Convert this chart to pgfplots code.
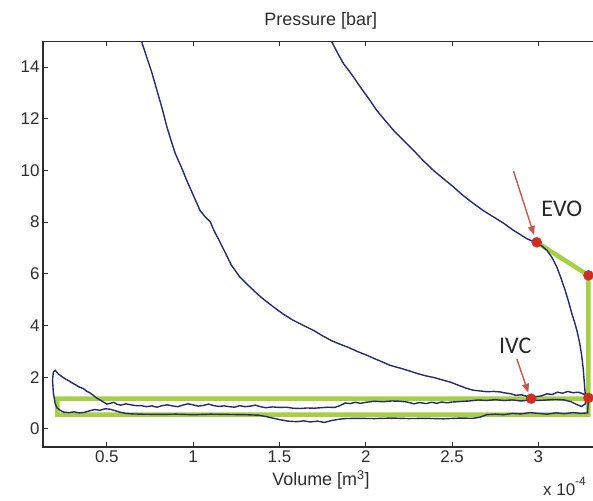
\documentclass[border=0pt]{standalone}
\usepackage{fontspec}
\setmainfont{Liberation Sans}
\newfontfamily\calib{Carlito}
\usepackage{pgfplots}
\pgfplotsset{compat=1.18}
\usetikzlibrary{arrows.meta}
\definecolor{navy}{RGB}{38,42,110}
\definecolor{lime}{RGB}{165,208,65}
\definecolor{dotred}{RGB}{205,45,35}
\definecolor{arrred}{RGB}{195,90,80}
\definecolor{axgray}{RGB}{45,45,45}
\begin{document}
\begin{tikzpicture}
\begin{axis}[
  scale only axis, width=555.8bp, height=405.8bp,
  xmin=0.13, xmax=3.35, ymin=-0.7, ymax=15,
  xtick={0.5,1,1.5,2,2.5,3}, xticklabels={0.5,1,1.5,2,2.5,3},
  ytick={0,2,4,6,8,10,12,14},
  scaled x ticks=false,
  /pgf/number format/assume math mode=true,
  ticklabel style={font=\fontsize{17}{17}\selectfont, text=axgray},
  axis line style={axgray, line width=1.1pt},
  major tick length=5bp,
  tick style={axgray, line width=1pt},
  tick align=inside,
]
% green annotation lines
\addplot[lime, line width=4.5bp, line join=miter] coordinates {
 (2.99,7.22) (3.29,5.94) (3.29,0.55) (0.214,0.55) (0.214,1.17) (3.29,1.17)};
% compression curve
\addplot[navy, line width=1.4bp] coordinates {
 (3.285,1.20) (3.27,1.32) (3.25,1.38) (3.23,1.42) (3.20,1.40) (3.17,1.45) (3.14,1.38)
 (3.11,1.42) (3.08,1.33) (3.05,1.36) (3.02,1.28) (2.99,1.25) (2.958,1.20) (2.93,1.27)
 (2.90,1.32) (2.87,1.30) (2.84,1.36) (2.80,1.40) (2.78,1.43) (2.74,1.45) (2.70,1.44)
 (2.66,1.47) (2.62,1.50) (2.58,1.58) (2.54,1.68) (2.49,1.81) (2.44,1.90) (2.40,1.98)
 (2.35,2.05) (2.30,2.14) (2.25,2.25) (2.20,2.35) (2.14,2.46) (2.10,2.58) (2.05,2.72)
 (2.006,2.85) (1.95,3.00) (1.90,3.15) (1.85,3.28) (1.80,3.42) (1.75,3.60) (1.70,3.80)
 (1.64,4.00) (1.58,4.20) (1.52,4.45) (1.465,4.72) (1.42,4.95) (1.37,5.23) (1.32,5.55)
 (1.27,5.88) (1.22,6.35) (1.18,6.90) (1.15,7.30) (1.12,7.68) (1.10,8.00) (1.07,8.20)
 (1.04,8.45) (1.00,9.05) (0.963,9.61) (0.93,10.15) (0.896,10.66) (0.87,11.20)
 (0.848,11.68) (0.82,12.40) (0.79,13.10) (0.76,13.80) (0.73,14.40) (0.703,14.95) (0.68,15.60)};
% expansion + blowdown + exhaust
\addplot[navy, line width=1.4bp] coordinates {
 (1.78,15.5) (1.804,14.96) (1.84,14.5) (1.871,14.13) (1.92,13.7) (1.968,13.23) (2.02,12.75)
 (2.064,12.32) (2.11,11.95) (2.161,11.55) (2.22,11.15) (2.276,10.78) (2.33,10.4) (2.392,10.0)
 (2.45,9.68) (2.508,9.36) (2.56,9.05) (2.624,8.72) (2.68,8.45) (2.740,8.20) (2.80,7.95)
 (2.856,7.68) (2.90,7.50) (2.933,7.36) (2.96,7.28) (2.987,7.23) (3.02,7.08) (3.049,6.91)
 (3.08,6.62) (3.107,6.26) (3.13,5.85) (3.155,5.36) (3.175,4.92) (3.194,4.46) (3.21,4.12)
 (3.223,3.81) (3.24,3.30) (3.252,2.78) (3.26,2.30) (3.265,1.88) (3.271,1.37) (3.276,1.10)
 (3.27,0.96) (3.25,0.87) (3.22,0.95) (3.19,1.05) (3.15,1.12) (3.10,1.14) (3.05,1.12)
 (3.00,1.10) (2.95,1.12) (2.90,1.08) (2.85,1.12) (2.80,1.10) (2.75,1.13) (2.70,1.10)
 (2.65,1.12) (2.60,1.08) (2.55,1.06) (2.50,1.04) (2.47,1.01) (2.44,1.04) (2.41,0.99)
 (2.38,1.03) (2.35,0.98) (2.31,1.02) (2.28,0.97) (2.24,1.04) (2.20,1.07) (2.15,1.08)
 (2.10,1.05) (2.05,1.07) (2.00,1.03) (1.97,0.99) (1.94,1.03) (1.91,0.98) (1.88,1.00)
 (1.85,0.90) (1.82,0.83) (1.78,0.84) (1.74,0.82) (1.70,0.80) (1.66,0.81) (1.62,0.79)
 (1.58,0.80) (1.54,0.84) (1.50,0.83) (1.46,0.85) (1.42,0.82) (1.39,0.86) (1.36,0.92)
 (1.33,0.88) (1.30,0.86) (1.27,0.90) (1.24,0.84) (1.21,0.86) (1.18,0.89) (1.15,0.87)
 (1.12,0.90) (1.09,0.96) (1.06,0.91) (1.03,0.88) (1.00,0.93) (0.97,0.97) (0.94,0.92)
 (0.91,0.86) (0.88,0.89) (0.85,0.93) (0.82,0.90) (0.79,0.84) (0.76,0.89) (0.73,0.86)
 (0.70,0.90) (0.67,0.90) (0.64,0.93) (0.61,0.97) (0.58,0.92) (0.56,0.95) (0.54,1.03)
 (0.52,0.99) (0.50,0.96) (0.48,1.04) (0.46,1.12) (0.44,1.20) (0.422,1.30) (0.40,1.40)
 (0.38,1.47) (0.364,1.56) (0.34,1.62) (0.32,1.70) (0.306,1.75) (0.28,1.86) (0.26,1.93)
 (0.24,2.02) (0.22,2.12) (0.20,2.27) (0.19,2.20) (0.185,1.90) (0.19,1.40) (0.20,1.00)
 (0.21,0.82) (0.23,0.72) (0.25,0.65) (0.28,0.63) (0.31,0.66) (0.34,0.62) (0.37,0.64)
 (0.40,0.70) (0.43,0.75) (0.46,0.72) (0.49,0.78) (0.52,0.76) (0.55,0.70) (0.58,0.64)
 (0.61,0.60) (0.65,0.58) (0.70,0.57) (0.80,0.56) (0.90,0.57) (1.00,0.55) (1.10,0.57)
 (1.20,0.56) (1.30,0.55) (1.38,0.53) (1.42,0.48) (1.46,0.42) (1.50,0.36) (1.55,0.30)
 (1.60,0.28) (1.64,0.31) (1.68,0.27) (1.72,0.30) (1.76,0.25) (1.80,0.32) (1.84,0.37)
 (1.88,0.40) (1.95,0.41) (2.05,0.40) (2.15,0.42) (2.25,0.40) (2.35,0.41) (2.45,0.39)
 (2.55,0.42) (2.62,0.41) (2.66,0.45) (2.70,0.55) (2.75,0.57) (2.80,0.55) (2.85,0.60)
 (2.90,0.58) (2.95,0.63) (3.00,0.60) (3.05,0.57) (3.10,0.62) (3.15,0.59) (3.20,0.63)
 (3.25,0.60) (3.285,0.62) (3.29,1.20)};
% red points
\addplot[only marks, mark=*, mark size=5bp, color=dotred, mark options={draw=dotred, fill=dotred}]
 coordinates {(2.99,7.22) (3.29,5.94) (2.958,1.17) (3.29,1.20)};
% arrows and labels
\draw[arrred, line width=1.4bp, -{Triangle[length=9bp, width=7bp]}] (axis cs:2.856,9.97) -- (axis cs:2.975,7.50);
\draw[arrred, line width=1.4bp, -{Triangle[length=9bp, width=7bp]}] (axis cs:2.875,2.71) -- (axis cs:2.942,1.40);
\node[font=\calib\fontsize{24}{24}\selectfont, text=black!85] at (axis cs:3.136,8.52) {EVO};
\node[font=\calib\fontsize{24}{24}\selectfont, text=black!85] at (axis cs:2.866,3.23) {IVC};
\coordinate (LL) at (rel axis cs:0,0);
\end{axis}
\node[anchor=base, font=\fontsize{18}{18}\selectfont, text=axgray] at ([shift={(277.7bp,421.5bp)}]LL) {Pressure [bar]};
\node[anchor=base, font=\fontsize{18}{18}\selectfont, text=axgray] at ([shift={(278bp,-38.3bp)}]LL) {Volume [m\textsuperscript{3}]};
\node[anchor=base west, inner sep=0pt, font=\fontsize{17}{17}\selectfont, text=axgray] at ([shift={(500bp,-48bp)}]LL) {x 10\raisebox{1.1ex}{\fontsize{12}{12}\selectfont -4}};
\pgfresetboundingbox
\path[use as bounding box] ([shift={(-43bp,-54bp)}]LL) rectangle ([shift={(550bp,447bp)}]LL);
\end{tikzpicture}
\end{document}
